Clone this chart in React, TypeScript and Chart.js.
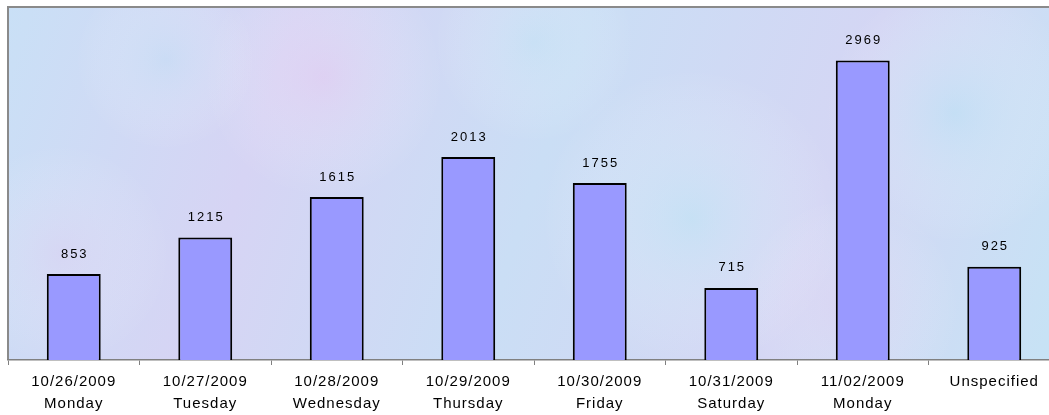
import React, { useEffect, useRef } from "react";
import { Chart, registerables } from "chart.js";

Chart.register(...registerables);

const categories: string[][] = [
  ["10/26/2009", "Monday"],
  ["10/27/2009", "Tuesday"],
  ["10/28/2009", "Wednesday"],
  ["10/29/2009", "Thursday"],
  ["10/30/2009", "Friday"],
  ["10/31/2009", "Saturday"],
  ["11/02/2009", "Monday"],
  ["Unspecified"],
];
const counts: number[] = [853, 1215, 1615, 2013, 1755, 715, 2969, 925];
const yMax = 3500;

const FONT = "'Liberation Sans', Arial, sans-serif";

const backgroundPlugin = {
  id: "texturedBg",
  beforeDraw(chart: any) {
    const { ctx, chartArea: a } = chart;
    ctx.save();
    const g = ctx.createLinearGradient(a.left, a.top, a.right, a.bottom);
    g.addColorStop(0, "#C9E0F6");
    g.addColorStop(0.25, "#D6D4F4");
    g.addColorStop(0.5, "#CADEF5");
    g.addColorStop(0.75, "#D4D6F4");
    g.addColorStop(1, "#C6E3F5");
    ctx.fillStyle = g;
    ctx.fillRect(a.left, a.top, a.right - a.left, a.bottom - a.top);
    const blobs: [number, number, number, string][] = [
      [0.3, 0.2, 120, "rgba(240,200,240,0.35)"],
      [0.65, 0.6, 150, "rgba(185,235,245,0.4)"],
      [0.05, 0.7, 110, "rgba(230,205,240,0.3)"],
      [0.9, 0.3, 130, "rgba(180,228,245,0.4)"],
      [0.5, 0.1, 100, "rgba(195,232,245,0.35)"],
      [0.15, 0.15, 90, "rgba(190,225,245,0.35)"],
      [0.8, 0.85, 110, "rgba(235,205,240,0.3)"],
    ];
    ctx.beginPath();
    ctx.rect(a.left, a.top, a.right - a.left, a.bottom - a.top);
    ctx.clip();
    for (const [fx, fy, r, c] of blobs) {
      const x = a.left + fx * (a.right - a.left);
      const y = a.top + fy * (a.bottom - a.top);
      const rg = ctx.createRadialGradient(x, y, 0, x, y, r);
      rg.addColorStop(0, c);
      rg.addColorStop(1, "rgba(255,255,255,0)");
      ctx.fillStyle = rg;
      ctx.fillRect(x - r, y - r, 2 * r, 2 * r);
    }
    ctx.restore();
    ctx.save();
    ctx.strokeStyle = "#8A8A8A";
    ctx.lineWidth = 2;
    ctx.beginPath();
    ctx.moveTo(a.left, a.bottom);
    ctx.lineTo(a.left, a.top);
    ctx.lineTo(a.right + 5, a.top);
    ctx.stroke();
    ctx.restore();
    (ctx as any).letterSpacing = "1px";
  },
  afterDatasetsDraw(chart: any) {
    const { ctx } = chart;
    const meta = chart.getDatasetMeta(0);
    ctx.save();
    (ctx as any).letterSpacing = "2px";
    ctx.fillStyle = "#000";
    ctx.font = `13px ${FONT}`;
    ctx.textAlign = "center";
    ctx.textBaseline = "middle";
    meta.data.forEach((bar: any, i: number) => {
      ctx.fillText(String(counts[i]), bar.x + 1, bar.y - 20);
    });
    ctx.restore();
  },
  afterDraw(chart: any) {
    (chart.ctx as any).letterSpacing = "0px";
  },
};

export default function App() {
  const ref = useRef<HTMLCanvasElement | null>(null);
  useEffect(() => {
    if (!ref.current) return;
    const chart = new Chart(ref.current, {
      type: "bar",
      data: {
        labels: categories,
        datasets: [
          {
            data: counts,
            backgroundColor: "#9999FF",
            borderColor: "#000000",
            borderWidth: 2,
            categoryPercentage: 1,
            barPercentage: 0.41,
          },
        ],
      },
      options: {
        animation: false,
        responsive: false,
        maintainAspectRatio: false,
        layout: { padding: { left: 8, top: 7, right: 0, bottom: 0 } },
        plugins: { legend: { display: false }, tooltip: { enabled: false } },
        scales: {
          y: { display: false, min: 0, max: yMax },
          x: {
            offset: true,
            grid: {
              offset: true,
              drawOnChartArea: false,
              drawTicks: true,
              tickLength: 5,
              color: "#808080",
            },
            border: { color: "#808080", width: 1.5 },
            ticks: {
              color: "#000",
              padding: 6,
              maxRotation: 0,
              autoSkip: false,
              font: { family: FONT, size: 15, lineHeight: 1.47 },
            },
            afterFit(scale: any) {
              scale.height = 55;
            },
          },
        },
      },
      plugins: [backgroundPlugin],
    });
    return () => chart.destroy();
  }, []);
  return (
    <div
      style={{
        position: "fixed",
        left: 0,
        top: 0,
        width: 1049,
        height: 415,
        overflow: "hidden",
        background: "#fff",
      }}
    >
      <canvas ref={ref} width={1060} height={415} style={{ display: "block" }} />
    </div>
  );
}
